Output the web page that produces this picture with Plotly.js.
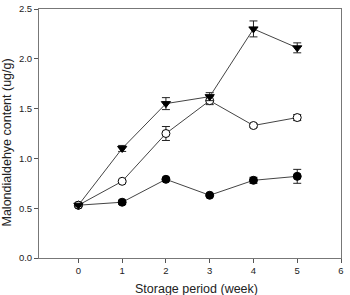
<!DOCTYPE html>
<html>
<head>
<meta charset="utf-8">
<script src="https://cdn.plot.ly/plotly-3.0.1.min.js"></script>
<style>
  html, body { margin: 0; padding: 0; background: #fff; }
  #chart { width: 350px; height: 295px; }
</style>
</head>
<body>
<div id="chart"></div>
<script>
// Storage period in weeks
const weeks = [0, 1, 2, 3, 4, 5];

// Malondialdehyde content (ug/g) for the three treatments
const triangleVals = [0.53, 1.10, 1.55, 1.62, 2.30, 2.11];
const triangleErr  = [0.01, 0.03, 0.06, 0.04, 0.08, 0.05];

const openVals = [0.53, 0.77, 1.25, 1.58, 1.33, 1.41];
const openErr  = [0.01, 0.01, 0.07, 0.04, 0.02, 0.03];

const filledVals = [0.53, 0.56, 0.79, 0.63, 0.78, 0.82];
const filledErr  = [0.01, 0.02, 0.01, 0.01, 0.03, 0.07];

const xTicks = [0, 1, 2, 3, 4, 5, 6];
const yTicks = [0.0, 0.5, 1.0, 1.5, 2.0, 2.5];

const xTitle = 'Storage period (week)';
const yTitle = 'Malondialdehye content (ug/g)';

const lineColor = '#444';

function series(y, err, symbol, fill) {
  return {
    x: weeks,
    y: y,
    type: 'scatter',
    mode: 'lines+markers',
    line: { color: lineColor, width: 1 },
    marker: {
      symbol: symbol,
      size: 8,
      color: fill,
      line: { color: '#000', width: 1 }
    },
    error_y: {
      type: 'data',
      array: err,
      visible: true,
      color: '#222',
      thickness: 1,
      width: 4
    },
    showlegend: false
  };
}

const data = [
  series(filledVals, filledErr, 'circle', '#000'),
  series(openVals, openErr, 'circle', '#fff'),
  series(triangleVals, triangleErr, 'triangle-down', '#000')
];

const axisCommon = {
  ticks: 'outside',
  ticklen: 4,
  tickcolor: '#555',
  showline: true,
  linecolor: '#777',
  linewidth: 1,
  mirror: true,
  showgrid: false,
  zeroline: false,
  tickfont: { size: 9.5 }
};

const layout = {
  width: 350,
  height: 295,
  margin: { l: 39, r: 9, t: 9, b: 37 },
  paper_bgcolor: '#fff',
  plot_bgcolor: '#fff',
  font: { family: 'Liberation Sans, Arial, sans-serif', color: '#222', size: 9.5 },
  xaxis: Object.assign({
    range: [-0.9, 6],
    tickvals: xTicks,
    ticktext: xTicks.map(String)
  }, axisCommon),
  yaxis: Object.assign({
    range: [0, 2.5],
    tickvals: yTicks,
    ticktext: yTicks.map(v => v.toFixed(1))
  }, axisCommon),
  annotations: [
    {
      text: xTitle,
      xref: 'paper', yref: 'paper',
      x: 0.52, y: -0.126,
      xanchor: 'center', yanchor: 'middle',
      showarrow: false,
      font: { size: 12.5, color: '#222' }
    },
    {
      text: yTitle,
      xref: 'paper', yref: 'paper',
      x: -0.105, y: 0.465,
      xanchor: 'center', yanchor: 'middle',
      textangle: -90,
      showarrow: false,
      font: { size: 12.5, color: '#222' }
    }
  ]
};

Plotly.newPlot('chart', data, layout, { displayModeBar: false, staticPlot: true });
</script>
</body>
</html>
